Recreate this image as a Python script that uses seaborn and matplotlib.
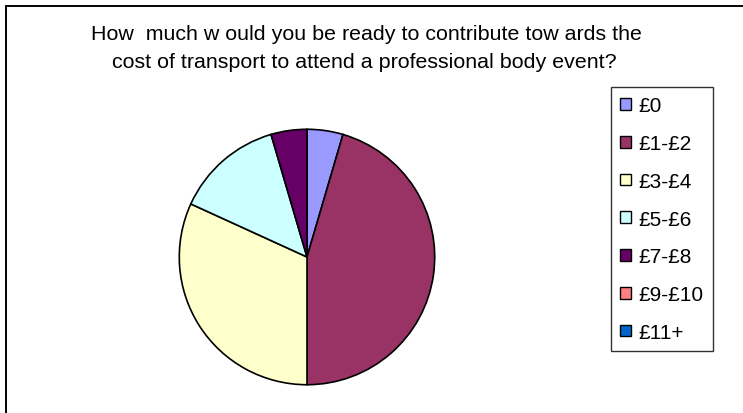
import matplotlib
matplotlib.use("Agg")
import matplotlib.pyplot as plt
from matplotlib.patches import Patch, Rectangle
import seaborn as sns

categories = ["£0", "£1-£2", "£3-£4", "£5-£6", "£7-£8", "£9-£10", "£11+"]
responses = [1, 10, 7, 3, 1, 0, 0]
colors = ["#9999FF", "#993366", "#FFFFCC", "#CCFFFF", "#660066", "#FF8080", "#0066CC"]
title_lines = [
    "How  much w ould you be ready to contribute tow ards the",
    "cost of transport to attend a professional body event?",
]

sns.set_theme(style="white")
plt.rcParams["font.family"] = ["Liberation Sans", "DejaVu Sans"]
plt.rcParams["text.color"] = "black"

W, H = 743, 414
fig = plt.figure(figsize=(W / 100, H / 100), dpi=100)
fig.patch.set_facecolor("white")

# chart frame (continues past the right and bottom edges)
fig.add_artist(Rectangle((6 / W, -0.1), 1.2, 1 - 7 / H + 0.1, transform=fig.transFigure,
                         fill=False, edgecolor="black", linewidth=1.4))

# pie area
cx, cy, r = 307, 258, 129
ax = fig.add_axes([(cx - r) / W, (H - cy - r) / H, 2 * r / W, 2 * r / H])
shown = [(v, c) for v, c in zip(responses, colors) if v > 0]
ax.pie([v for v, _ in shown], colors=[c for _, c in shown], startangle=90,
       counterclock=False, radius=1,
       wedgeprops=dict(edgecolor="black", linewidth=1.2))
ax.set_xlim(-1.01, 1.01)
ax.set_ylim(-1.01, 1.01)
ax.set_aspect("auto")
ax.axis("off")

# title
fig.text(366 / W, 1 - 34 / H, title_lines[0], ha="center", va="center",
         fontsize=15.4, color="black")
fig.text(364 / W, 1 - 63 / H, title_lines[1], ha="center", va="center",
         fontsize=15.4, color="black")

# legend
handles = [Patch(facecolor=c, edgecolor="black", linewidth=1.0) for c in colors]
leg = fig.legend(handles, categories, loc="upper left",
                 bbox_to_anchor=(611 / W, 1 - 88 / H), bbox_transform=fig.transFigure,
                 borderaxespad=0, frameon=True, fancybox=False, fontsize=15,
                 handlelength=0.5, handleheight=0.5, handletextpad=0.35,
                 labelspacing=0.9, borderpad=0.45, labelcolor="black")
leg.get_frame().set_edgecolor("black")
leg.get_frame().set_linewidth(1.0)

fig.savefig("out.png", dpi=100, facecolor="white")
